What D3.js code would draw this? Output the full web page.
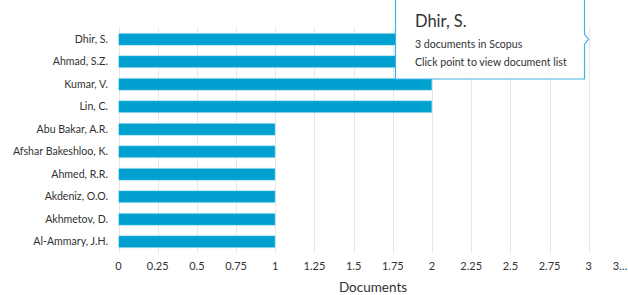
<!DOCTYPE html>
<html><head><meta charset="utf-8">
<script src="https://cdn.jsdelivr.net/npm/d3@7"></script>
<style>
html,body{margin:0;padding:0;background:#fff;}
svg{display:block;font-family:"Lato",sans-serif;}
</style></head>
<body>
<svg id="chart" width="628" height="295"></svg>
<script>
const authors = ["Dhir, S.","Ahmad, S.Z.","Kumar, V.","Lin, C.","Abu Bakar, A.R.","Afshar Bakeshloo, K.","Ahmed, R.R.","Akdeniz, O.O.","Akhmetov, D.","Al-Ammary, J.H."];
const documents = [3,3,2,2,1,1,1,1,1,1];
const tickValues = [0,0.25,0.5,0.75,1,1.25,1.5,1.75,2,2.25,2.5,2.75,3,3.25];
const tickLabels = ["0","0.25","0.5","0.75","1","1.25","1.5","1.75","2","2.25","2.5","2.75","3","3…"];
const tooltipTitle = "Dhir, S.";
const tooltipLines = ["3 documents in Scopus","Click point to view document list"];

const svg = d3.select("#chart");
const x = d3.scaleLinear().domain([0,3.25]).range([118.5,628]);
const y = d3.scaleBand().domain(authors).range([28,253]).paddingInner(0.46).paddingOuter(0.23);
const gridColor = "#e6e6e6";

// gridlines
svg.append("g").selectAll("line").data(tickValues.slice(0,13)).join("line")
  .attr("x1",d=>Math.round(x(d))+0.5).attr("x2",d=>Math.round(x(d))+0.5)
  .attr("y1",28).attr("y2",253).attr("stroke",gridColor).attr("stroke-width",1);

// bars
svg.append("g").selectAll("rect").data(authors).join("rect")
  .attr("x",x(0)).attr("y",d=>y(d))
  .attr("width",(d,i)=>x(documents[i])-x(0)).attr("height",y.bandwidth())
  .attr("fill","#00a0d1").attr("stroke","#c8ebf6").attr("stroke-width",0.8);

// y labels
svg.append("g").selectAll("text").data(authors).join("text")
  .attr("x",108).attr("y",d=>y(d)+y.bandwidth()/2).attr("dy","0.35em")
  .attr("text-anchor","end").attr("font-size",10.6).attr("fill","#323232").text(d=>d);

// x tick labels
svg.append("g").selectAll("text").data(tickValues).join("text")
  .attr("x",(d,i)=> i===13 ? 620 : x(d)).attr("y",270)
  .attr("text-anchor","middle").attr("font-size",11).attr("fill","#323232")
  .text((d,i)=>tickLabels[i]);

// axis title
svg.append("text").attr("x",373).attr("y",292).attr("text-anchor","middle")
  .attr("font-size",13.5).attr("fill","#323232").text("Documents");

// tooltip
const tt = svg.append("g");
const bx=395.5, by=-5, bw=189, bh=84, ay=y(authors[0])+y.bandwidth()/2;
tt.append("rect").attr("x",bx+bw).attr("y",y(authors[0])-1).attr("width",6)
  .attr("height",y(authors[1])+y.bandwidth()-y(authors[0])+2).attr("fill","#fff");
tt.append("line").attr("x1",Math.round(x(3))+0.5).attr("x2",Math.round(x(3))+0.5)
  .attr("y1",28).attr("y2",80).attr("stroke",gridColor);
tt.append("path")
  .attr("d",`M${bx},${by} H${bx+bw} V${ay-5} L${bx+bw+4},${ay} L${bx+bw},${ay+5} V${by+bh} H${bx} Z`)
  .attr("fill","#fff").attr("stroke","#3fb4e0").attr("stroke-width",1.2);
tt.append("text").attr("x",415).attr("y",27).attr("font-size",16.5).attr("fill","#323232").text(tooltipTitle);
tt.selectAll("text.l").data(tooltipLines).join("text").attr("class","l")
  .attr("x",415).attr("y",(d,i)=>48+i*17.5).attr("font-size",10.6).attr("fill","#323232").text(d=>d);
</script>
</body></html>
